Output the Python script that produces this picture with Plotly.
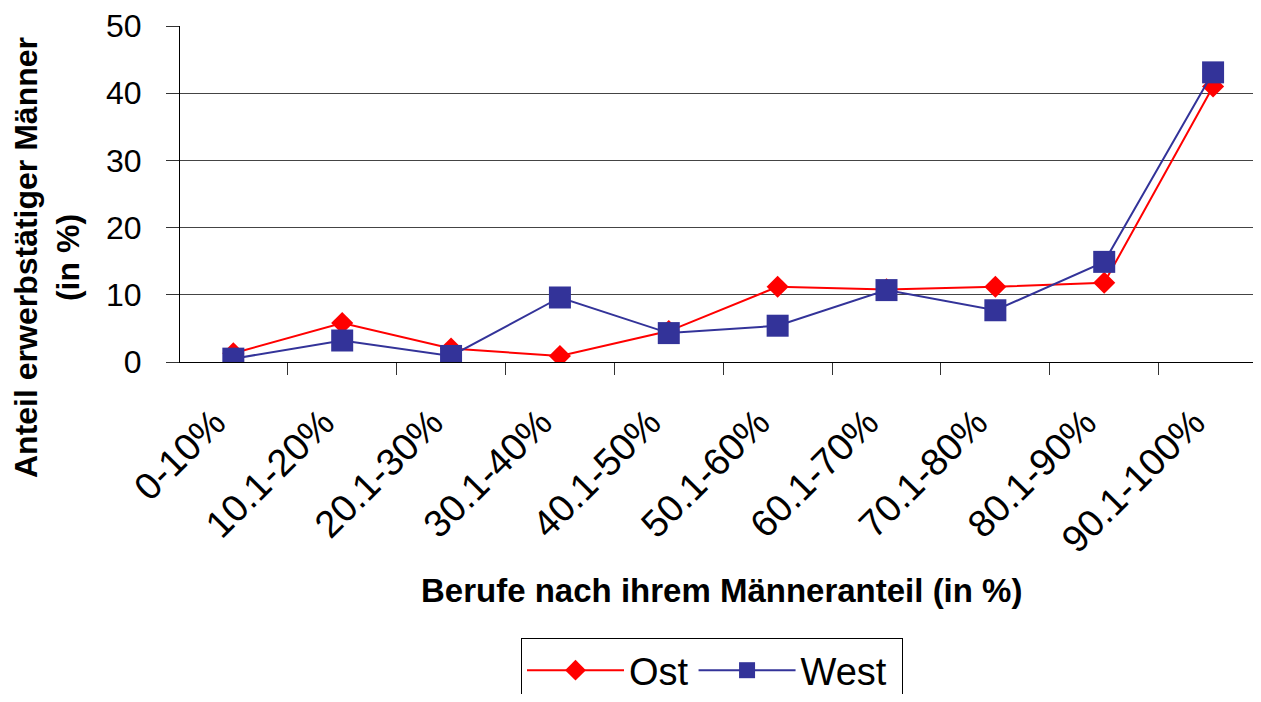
import plotly.graph_objects as go

categories = ["0-10%", "10.1-20%", "20.1-30%", "30.1-40%", "40.1-50%",
              "50.1-60%", "60.1-70%", "70.1-80%", "80.1-90%", "90.1-100%"]
ost = [1.3, 5.8, 2.0, 0.9, 4.6, 11.2, 10.8, 11.2, 11.8, 41.0]
west = [0.5, 3.2, 0.9, 9.6, 4.3, 5.4, 10.7, 7.7, 14.9, 43.1]
y_ticks = [0, 10, 20, 30, 40, 50]

FONT = "Liberation Sans, Arial, sans-serif"

# page body has an 8px margin; plot area should sit at x=180..1261, y=26..362
PLOT_W = 1073
PLOT_H = 336
L, T = 172, 18

fig = go.Figure()
fig.add_trace(go.Scatter(
    x=categories, y=ost, name="Ost", mode="lines+markers",
    line=dict(color="#FF0000", width=2),
    marker=dict(symbol="diamond", size=17, color="#FF0000"),
))
fig.add_trace(go.Scatter(
    x=categories, y=west, name="West\u00a0", mode="lines+markers",
    line=dict(color="#333399", width=2),
    marker=dict(symbol="square", size=22, color="#333399"),
))

def px_x(sx):
    return (sx - 180) / PLOT_W

def px_y(sy):
    return (362 - sy) / PLOT_H

fig.update_layout(
    width=1245, height=686,
    margin=dict(l=L, r=0, t=T, b=686 - T - PLOT_H, autoexpand=False),
    paper_bgcolor="white", plot_bgcolor="white",
    font=dict(family=FONT, color="black", size=32),
    showlegend=True,
    legend=dict(
        orientation="h", x=px_x(521), xanchor="left", y=px_y(638), yanchor="top",
        bordercolor="black", borderwidth=1, font=dict(size=38, family=FONT),
        itemwidth=97, tracegroupgap=0,
    ),
    xaxis=dict(
        type="category", range=[-0.49, -0.49 + PLOT_W / 108.86],
        tickson="boundaries", ticks="outside", ticklen=12, tickcolor="#333",
        showline=True, linecolor="black", linewidth=1,
        showgrid=False, tickangle=-45,
        tickfont=dict(size=38, family=FONT),
        ticklabelshift=-19, ticklabelstandoff=22, automargin=False,
    ),
    yaxis=dict(
        range=[0, 50], tickvals=y_ticks, ticks="outside", ticklen=13,
        tickcolor="#333", showline=True, linecolor="black", linewidth=1,
        showgrid=True, gridcolor="#444", gridwidth=1, zeroline=False,
        tickfont=dict(size=32, family=FONT), ticklabelstandoff=18,
        automargin=False,
    ),
    annotations=[
        dict(text="<b>Anteil erwerbstätiger Männer<br>(in %)</b>",
             textangle=-90, xref="paper", yref="paper",
             x=px_x(47), y=px_y(258),
             xanchor="center", yanchor="middle", showarrow=False,
             font=dict(size=32, family=FONT, color="black")),
        dict(text="<b>Berufe nach ihrem Männeranteil (in %)</b>",
             xref="paper", yref="paper", x=px_x(721), y=px_y(590),
             xanchor="center", yanchor="middle", showarrow=False,
             font=dict(size=33, family=FONT, color="black")),
    ],
)

fig.write_html("out.html")
